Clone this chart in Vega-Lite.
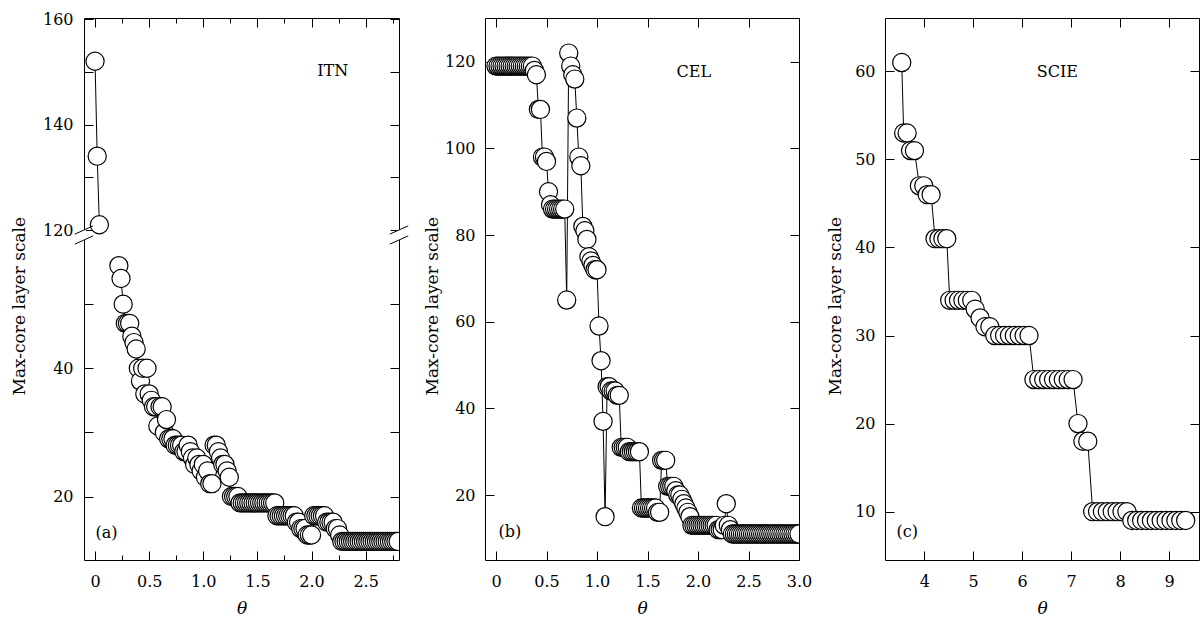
{
  "$schema": "https://vega.github.io/schema/vega-lite/v6.json",
  "background": "white",
  "padding": {"left": 10, "top": 11, "right": 0, "bottom": 0},
  "bounds": "flush",
  "spacing": 86,
  "config": {
    "view": {"stroke": null},
    "axis": {
      "domainColor": "black", "domainWidth": 1, "tickColor": "black", "tickWidth": 1,
      "labelFont": "DejaVu Serif", "labelFontSize": 16, "labelColor": "black",
      "titleFont": "DejaVu Serif", "titleFontSize": 17, "titleColor": "black", "titleFontWeight": "normal",
      "grid": false, "labelFlush": false, "labelOverlap": false, "labelBound": false
    },
    "text": {"font": "DejaVu Serif"}
  },
  "datasets": {
    "itn": [
      {"t":0,"k":152,"part":"upper"},{"t":0.02,"k":134,"part":"upper"},{"t":0.04,"k":121,"part":"upper"},
      {"t":0.22,"k":56,"part":"lower"},{"t":0.24,"k":54,"part":"lower"},{"t":0.26,"k":50,"part":"lower"},{"t":0.28,"k":47,"part":"lower"},{"t":0.30,"k":47,"part":"lower"},{"t":0.32,"k":47,"part":"lower"},
      {"t":0.34,"k":45,"part":"lower"},{"t":0.36,"k":44,"part":"lower"},{"t":0.38,"k":43,"part":"lower"},{"t":0.40,"k":40,"part":"lower"},{"t":0.42,"k":38,"part":"lower"},{"t":0.44,"k":40,"part":"lower"},
      {"t":0.46,"k":36,"part":"lower"},{"t":0.48,"k":40,"part":"lower"},{"t":0.50,"k":36,"part":"lower"},{"t":0.52,"k":35,"part":"lower"},{"t":0.54,"k":34,"part":"lower"},{"t":0.56,"k":34,"part":"lower"},
      {"t":0.58,"k":31,"part":"lower"},{"t":0.60,"k":34,"part":"lower"},{"t":0.62,"k":34,"part":"lower"},{"t":0.64,"k":30,"part":"lower"},{"t":0.66,"k":32,"part":"lower"},{"t":0.68,"k":29,"part":"lower"},
      {"t":0.70,"k":29,"part":"lower"},{"t":0.72,"k":29,"part":"lower"},{"t":0.74,"k":28,"part":"lower"},{"t":0.76,"k":28,"part":"lower"},{"t":0.78,"k":28,"part":"lower"},{"t":0.80,"k":28,"part":"lower"},
      {"t":0.82,"k":27,"part":"lower"},{"t":0.84,"k":27,"part":"lower"},{"t":0.86,"k":28,"part":"lower"},{"t":0.88,"k":27,"part":"lower"},{"t":0.90,"k":26,"part":"lower"},{"t":0.92,"k":25,"part":"lower"},
      {"t":0.94,"k":26,"part":"lower"},{"t":0.96,"k":25,"part":"lower"},{"t":0.98,"k":24,"part":"lower"},{"t":1.00,"k":25,"part":"lower"},{"t":1.02,"k":23,"part":"lower"},{"t":1.04,"k":24,"part":"lower"},
      {"t":1.06,"k":22,"part":"lower"},{"t":1.08,"k":22,"part":"lower"},{"t":1.10,"k":28,"part":"lower"},{"t":1.12,"k":28,"part":"lower"},{"t":1.14,"k":27,"part":"lower"},{"t":1.16,"k":26,"part":"lower"},
      {"t":1.18,"k":25,"part":"lower"},{"t":1.20,"k":25,"part":"lower"},{"t":1.22,"k":24,"part":"lower"},{"t":1.24,"k":23,"part":"lower"},{"t":1.26,"k":20,"part":"lower"},{"t":1.28,"k":20,"part":"lower"},
      {"t":1.30,"k":20,"part":"lower"},{"t":1.32,"k":20,"part":"lower"},{"t":1.34,"k":19,"part":"lower"},{"t":1.36,"k":19,"part":"lower"},{"t":1.38,"k":19,"part":"lower"},{"t":1.40,"k":19,"part":"lower"},
      {"t":1.42,"k":19,"part":"lower"},{"t":1.44,"k":19,"part":"lower"},{"t":1.46,"k":19,"part":"lower"},{"t":1.48,"k":19,"part":"lower"},{"t":1.50,"k":19,"part":"lower"},{"t":1.52,"k":19,"part":"lower"},
      {"t":1.54,"k":19,"part":"lower"},{"t":1.56,"k":19,"part":"lower"},{"t":1.58,"k":19,"part":"lower"},{"t":1.60,"k":19,"part":"lower"},{"t":1.62,"k":19,"part":"lower"},{"t":1.64,"k":19,"part":"lower"},
      {"t":1.66,"k":19,"part":"lower"},{"t":1.68,"k":17,"part":"lower"},{"t":1.70,"k":17,"part":"lower"},{"t":1.72,"k":17,"part":"lower"},{"t":1.74,"k":17,"part":"lower"},{"t":1.76,"k":17,"part":"lower"},
      {"t":1.78,"k":17,"part":"lower"},{"t":1.80,"k":17,"part":"lower"},{"t":1.82,"k":17,"part":"lower"},{"t":1.84,"k":17,"part":"lower"},{"t":1.86,"k":16,"part":"lower"},{"t":1.88,"k":16,"part":"lower"},
      {"t":1.90,"k":15,"part":"lower"},{"t":1.92,"k":15,"part":"lower"},{"t":1.94,"k":15,"part":"lower"},{"t":1.96,"k":14,"part":"lower"},{"t":1.98,"k":14,"part":"lower"},{"t":2.00,"k":14,"part":"lower"},
      {"t":2.02,"k":17,"part":"lower"},{"t":2.04,"k":17,"part":"lower"},{"t":2.06,"k":17,"part":"lower"},{"t":2.08,"k":17,"part":"lower"},{"t":2.10,"k":17,"part":"lower"},{"t":2.12,"k":17,"part":"lower"},
      {"t":2.14,"k":16,"part":"lower"},{"t":2.16,"k":16,"part":"lower"},{"t":2.18,"k":16,"part":"lower"},{"t":2.20,"k":16,"part":"lower"},{"t":2.22,"k":15,"part":"lower"},{"t":2.24,"k":15,"part":"lower"},
      {"t":2.26,"k":14,"part":"lower"},{"t":2.28,"k":13,"part":"lower"},{"t":2.30,"k":13,"part":"lower"},{"t":2.32,"k":13,"part":"lower"},{"t":2.34,"k":13,"part":"lower"},{"t":2.36,"k":13,"part":"lower"},
      {"t":2.38,"k":13,"part":"lower"},{"t":2.40,"k":13,"part":"lower"},{"t":2.42,"k":13,"part":"lower"},{"t":2.44,"k":13,"part":"lower"},{"t":2.46,"k":13,"part":"lower"},{"t":2.48,"k":13,"part":"lower"},
      {"t":2.50,"k":13,"part":"lower"},{"t":2.52,"k":13,"part":"lower"},{"t":2.54,"k":13,"part":"lower"},{"t":2.56,"k":13,"part":"lower"},{"t":2.58,"k":13,"part":"lower"},{"t":2.60,"k":13,"part":"lower"},
      {"t":2.62,"k":13,"part":"lower"},{"t":2.64,"k":13,"part":"lower"},{"t":2.66,"k":13,"part":"lower"},{"t":2.68,"k":13,"part":"lower"},{"t":2.70,"k":13,"part":"lower"},{"t":2.72,"k":13,"part":"lower"},
      {"t":2.74,"k":13,"part":"lower"},{"t":2.76,"k":13,"part":"lower"},{"t":2.78,"k":13,"part":"lower"},{"t":2.80,"k":13,"part":"lower"}
    ],
    "cel": [
      {"t":0,"k":119},{"t":0.02,"k":119},{"t":0.04,"k":119},{"t":0.06,"k":119},{"t":0.08,"k":119},{"t":0.10,"k":119},
      {"t":0.12,"k":119},{"t":0.14,"k":119},{"t":0.16,"k":119},{"t":0.18,"k":119},{"t":0.20,"k":119},{"t":0.22,"k":119},
      {"t":0.24,"k":119},{"t":0.26,"k":119},{"t":0.28,"k":119},{"t":0.30,"k":119},{"t":0.32,"k":119},{"t":0.34,"k":119},
      {"t":0.36,"k":119},{"t":0.38,"k":118},{"t":0.40,"k":117},{"t":0.42,"k":109},{"t":0.44,"k":109},{"t":0.46,"k":98},
      {"t":0.48,"k":98},{"t":0.50,"k":97},{"t":0.52,"k":90},{"t":0.54,"k":87},{"t":0.56,"k":86},{"t":0.58,"k":86},
      {"t":0.60,"k":86},{"t":0.62,"k":86},{"t":0.64,"k":86},{"t":0.66,"k":86},{"t":0.68,"k":86},{"t":0.70,"k":65},
      {"t":0.72,"k":122},{"t":0.74,"k":119},{"t":0.76,"k":117},{"t":0.78,"k":116},{"t":0.80,"k":107},{"t":0.82,"k":98},
      {"t":0.84,"k":96},{"t":0.86,"k":82},{"t":0.88,"k":81},{"t":0.90,"k":79},{"t":0.92,"k":75},{"t":0.94,"k":74},
      {"t":0.96,"k":73},{"t":0.98,"k":72},{"t":1.00,"k":72},{"t":1.02,"k":59},{"t":1.04,"k":51},{"t":1.06,"k":37},
      {"t":1.08,"k":15},{"t":1.10,"k":45},{"t":1.12,"k":45},{"t":1.14,"k":44},{"t":1.16,"k":44},{"t":1.18,"k":44},
      {"t":1.20,"k":43},{"t":1.22,"k":43},{"t":1.24,"k":31},{"t":1.26,"k":31},{"t":1.28,"k":31},{"t":1.30,"k":31},
      {"t":1.32,"k":30},{"t":1.34,"k":30},{"t":1.36,"k":30},{"t":1.38,"k":30},{"t":1.40,"k":30},{"t":1.42,"k":30},
      {"t":1.44,"k":17},{"t":1.46,"k":17},{"t":1.48,"k":17},{"t":1.50,"k":17},{"t":1.52,"k":17},{"t":1.54,"k":17},
      {"t":1.56,"k":17},{"t":1.58,"k":17},{"t":1.60,"k":16},{"t":1.62,"k":16},{"t":1.64,"k":28},{"t":1.66,"k":28},
      {"t":1.68,"k":28},{"t":1.70,"k":22},{"t":1.72,"k":22},{"t":1.74,"k":22},{"t":1.76,"k":22},{"t":1.78,"k":21},
      {"t":1.80,"k":20},{"t":1.82,"k":20},{"t":1.84,"k":19},{"t":1.86,"k":18},{"t":1.88,"k":17},{"t":1.90,"k":16},
      {"t":1.92,"k":15},{"t":1.94,"k":13},{"t":1.96,"k":13},{"t":1.98,"k":13},{"t":2.00,"k":13},{"t":2.02,"k":13},
      {"t":2.04,"k":13},{"t":2.06,"k":13},{"t":2.08,"k":13},{"t":2.10,"k":13},{"t":2.12,"k":13},{"t":2.14,"k":13},
      {"t":2.16,"k":13},{"t":2.18,"k":13},{"t":2.20,"k":12},{"t":2.22,"k":12},{"t":2.24,"k":12},{"t":2.26,"k":13},
      {"t":2.28,"k":18},{"t":2.30,"k":13},{"t":2.32,"k":12},{"t":2.34,"k":11},{"t":2.36,"k":11},{"t":2.38,"k":11},
      {"t":2.40,"k":11},{"t":2.42,"k":11},{"t":2.44,"k":11},{"t":2.46,"k":11},{"t":2.48,"k":11},{"t":2.50,"k":11},
      {"t":2.52,"k":11},{"t":2.54,"k":11},{"t":2.56,"k":11},{"t":2.58,"k":11},{"t":2.60,"k":11},{"t":2.62,"k":11},
      {"t":2.64,"k":11},{"t":2.66,"k":11},{"t":2.68,"k":11},{"t":2.70,"k":11},{"t":2.72,"k":11},{"t":2.74,"k":11},
      {"t":2.76,"k":11},{"t":2.78,"k":11},{"t":2.80,"k":11},{"t":2.82,"k":11},{"t":2.84,"k":11},{"t":2.86,"k":11},
      {"t":2.88,"k":11},{"t":2.90,"k":11},{"t":2.92,"k":11},{"t":2.94,"k":11},{"t":2.96,"k":11},{"t":2.98,"k":11},
      {"t":3.00,"k":11}
    ],
    "scie": [
      {"t":3.54,"k":61},{"t":3.58,"k":53},{"t":3.65,"k":53},{"t":3.72,"k":51},{"t":3.80,"k":51},{"t":3.90,"k":47},
      {"t":3.99,"k":47},{"t":4.06,"k":46},{"t":4.14,"k":46},{"t":4.22,"k":41},{"t":4.30,"k":41},{"t":4.38,"k":41},
      {"t":4.46,"k":41},{"t":4.52,"k":34},{"t":4.61,"k":34},{"t":4.70,"k":34},{"t":4.79,"k":34},{"t":4.88,"k":34},
      {"t":4.97,"k":34},{"t":5.04,"k":33},{"t":5.14,"k":32},{"t":5.24,"k":31},{"t":5.34,"k":31},{"t":5.44,"k":30},
      {"t":5.54,"k":30},{"t":5.64,"k":30},{"t":5.74,"k":30},{"t":5.84,"k":30},{"t":5.94,"k":30},{"t":6.04,"k":30},
      {"t":6.14,"k":30},{"t":6.24,"k":25},{"t":6.34,"k":25},{"t":6.44,"k":25},{"t":6.54,"k":25},{"t":6.64,"k":25},
      {"t":6.74,"k":25},{"t":6.84,"k":25},{"t":6.94,"k":25},{"t":7.04,"k":25},{"t":7.14,"k":20},{"t":7.24,"k":18},
      {"t":7.34,"k":18},{"t":7.44,"k":10},{"t":7.54,"k":10},{"t":7.64,"k":10},{"t":7.74,"k":10},{"t":7.84,"k":10},
      {"t":7.94,"k":10},{"t":8.04,"k":10},{"t":8.14,"k":10},{"t":8.24,"k":9},{"t":8.34,"k":9},{"t":8.44,"k":9},
      {"t":8.54,"k":9},{"t":8.64,"k":9},{"t":8.74,"k":9},{"t":8.84,"k":9},{"t":8.94,"k":9},{"t":9.04,"k":9},
      {"t":9.14,"k":9},{"t":9.24,"k":9},{"t":9.34,"k":9}
    ]
  },
  "hconcat": [
    {
      "width": 315, "height": 542,
      "data": {"name": "itn"},
      "layer": [
        {
          "data": {"values": [{}]},
          "mark": {"type": "rule", "color": "white", "strokeWidth": 4},
          "encoding": {"x": {"datum": -0.102, "type": "quantitative", "axis": null}, "y": {"datum": 60, "type": "quantitative", "axis": null}, "y2": {"datum": 120}}
        },
        {
          "data": {"values": [{}]},
          "mark": {"type": "rule", "color": "white", "strokeWidth": 4},
          "encoding": {"x": {"datum": 2.808, "type": "quantitative", "axis": null}, "y": {"datum": 60, "type": "quantitative", "axis": null}, "y2": {"datum": 120}}
        },
        {
          "mark": {"type": "line", "color": "black", "strokeWidth": 1, "clip": true},
          "encoding": {
            "x": {"field": "t", "type": "quantitative", "scale": {"domain": [-0.102, 2.808], "nice": false, "zero": false},
                  "axis": {"orient": "bottom", "values": [0,0.25,0.5,0.75,1,1.25,1.5,1.75,2,2.25,2.5,2.75],
                           "labelExpr": "datum.value % 0.5 === 0 ? (datum.value === 0 ? '0' : format(datum.value, '.1f')) : ''",
                           "tickSize": {"condition": {"test": "datum.value % 0.5 === 0", "value": -9}, "value": -5},
                           "labelPadding": 30, "labelBaseline": "middle",
                           "title": "θ", "titleFontStyle": "italic", "titleY": 53, "titleBaseline": "alphabetic"}},
            "y": {"field": "k", "type": "quantitative",
                  "scale": {"type": "linear", "domain": [10.1, 60, 120, 160.2], "range": [542, 222, 212, 0], "nice": false, "zero": false},
                  "axis": {"orient": "left", "values": [20,30,40,50,120,130,140,150,160], "labelExpr": "datum.value % 20 === 0 ? datum.label : ''",
                           "tickSize": -9, "labelPadding": 20,
                           "title": "Max-core layer scale", "titleX": -64.2, "titleY": 287.7, "titleAngle": -90,
                           "titleAlign": "center", "titleBaseline": "middle"}},
            "detail": {"field": "part", "type": "nominal"}
          }
        },
        {
          "mark": {"type": "point", "filled": true, "fill": "white", "stroke": "black", "strokeWidth": 1.2, "size": 330, "opacity": 1, "clip": true},
          "encoding": {
            "x": {"field": "t", "type": "quantitative",
                  "axis": {"orient": "top", "values": [0,0.25,0.5,0.75,1,1.25,1.5,1.75,2,2.25,2.5,2.75], "labels": false, "title": null,
                           "tickSize": {"condition": {"test": "datum.value % 0.5 === 0", "value": -9}, "value": -5}}},
            "y": {"field": "k", "type": "quantitative",
                  "axis": {"orient": "right", "values": [20,30,40,50,120,130,140,150,160], "labels": false, "tickSize": -9, "title": null}}
          }
        },
        {
          "data": {"values": [{}]},
          "mark": {"type": "rule", "color": "black", "strokeWidth": 1},
          "encoding": {"x": {"datum": -0.187, "type": "quantitative", "axis": null}, "x2": {"datum": -0.017}, "y": {"datum": 95.1, "type": "quantitative", "axis": null}, "y2": {"datum": 120.787}}
        },
        {
          "data": {"values": [{}]},
          "mark": {"type": "rule", "color": "black", "strokeWidth": 1},
          "encoding": {"x": {"datum": 2.723, "type": "quantitative", "axis": null}, "x2": {"datum": 2.893}, "y": {"datum": 95.1, "type": "quantitative", "axis": null}, "y2": {"datum": 120.787}}
        },
        {
          "data": {"values": [{}]},
          "mark": {"type": "rule", "color": "black", "strokeWidth": 1},
          "encoding": {"x": {"datum": -0.187, "type": "quantitative", "axis": null}, "x2": {"datum": -0.017}, "y": {"datum": 59.353, "type": "quantitative", "axis": null}, "y2": {"datum": 84.9}}
        },
        {
          "data": {"values": [{}]},
          "mark": {"type": "rule", "color": "black", "strokeWidth": 1},
          "encoding": {"x": {"datum": 2.723, "type": "quantitative", "axis": null}, "x2": {"datum": 2.893}, "y": {"datum": 59.353, "type": "quantitative", "axis": null}, "y2": {"datum": 84.9}}
        },
        {
          "data": {"values": [{}]},
          "mark": {"type": "text", "font": "DejaVu Serif", "fontSize": 16, "color": "black", "align": "center", "baseline": "middle"},
          "encoding": {"x": {"datum": 2.195, "type": "quantitative", "axis": null}, "y": {"datum": 150.2, "type": "quantitative", "axis": null}, "text": {"value": "ITN"}}
        },
        {
          "data": {"values": [{}]},
          "mark": {"type": "text", "font": "DejaVu Serif", "fontSize": 16, "color": "black", "align": "center", "baseline": "middle"},
          "encoding": {"x": {"datum": 0.106, "type": "quantitative", "axis": null}, "y": {"datum": 14.31, "type": "quantitative", "axis": null}, "text": {"value": "(a)"}}
        }
      ],
      "resolve": {"axis": {"x": "independent", "y": "independent"}}
    },
    {
      "width": 314, "height": 542,
      "data": {"name": "cel"},
      "layer": [
        {
          "mark": {"type": "line", "color": "black", "strokeWidth": 1, "clip": true},
          "encoding": {
            "x": {"field": "t", "type": "quantitative", "scale": {"domain": [-0.109, 3.0], "nice": false, "zero": false},
                  "axis": {"orient": "bottom", "values": [0,0.5,1,1.5,2,2.5,3],
                           "labelExpr": "datum.value === 0 ? '0' : format(datum.value, '.1f')",
                           "tickSize": -9, "labelPadding": 30, "labelBaseline": "middle",
                           "title": "θ", "titleFontStyle": "italic", "titleY": 53, "titleBaseline": "alphabetic"}},
            "y": {"field": "k", "type": "quantitative", "scale": {"domain": [5, 130.1], "nice": false, "zero": false},
                  "axis": {"orient": "left", "values": [20,40,60,80,100,120], "tickSize": -9, "labelPadding": 19,
                           "title": "Max-core layer scale", "titleX": -52.3, "titleY": 287.7, "titleAngle": -90,
                           "titleAlign": "center", "titleBaseline": "middle"}}
          }
        },
        {
          "mark": {"type": "point", "filled": true, "fill": "white", "stroke": "black", "strokeWidth": 1.2, "size": 330, "opacity": 1, "clip": true},
          "encoding": {
            "x": {"field": "t", "type": "quantitative",
                  "axis": {"orient": "top", "values": [0,0.5,1,1.5,2,2.5,3], "labels": false, "tickSize": -9, "title": null}},
            "y": {"field": "k", "type": "quantitative",
                  "axis": {"orient": "right", "values": [20,40,60,80,100,120], "labels": false, "tickSize": -9, "title": null}}
          }
        },
        {
          "data": {"values": [{}]},
          "mark": {"type": "text", "font": "DejaVu Serif", "fontSize": 16, "color": "black", "align": "center", "baseline": "middle"},
          "encoding": {"x": {"datum": 1.958, "type": "quantitative", "axis": null}, "y": {"datum": 117.7, "type": "quantitative", "axis": null}, "text": {"value": "CEL"}}
        },
        {
          "data": {"values": [{}]},
          "mark": {"type": "text", "font": "DejaVu Serif", "fontSize": 16, "color": "black", "align": "center", "baseline": "middle"},
          "encoding": {"x": {"datum": 0.138, "type": "quantitative", "axis": null}, "y": {"datum": 11.55, "type": "quantitative", "axis": null}, "text": {"value": "(b)"}}
        }
      ],
      "resolve": {"axis": {"x": "independent", "y": "independent"}}
    },
    {
      "width": 314, "height": 542,
      "data": {"name": "scie"},
      "layer": [
        {
          "mark": {"type": "line", "color": "black", "strokeWidth": 1, "clip": true},
          "encoding": {
            "x": {"field": "t", "type": "quantitative", "scale": {"domain": [3.198, 9.612], "nice": false, "zero": false},
                  "axis": {"orient": "bottom", "values": [4,5,6,7,8,9], "tickSize": -9, "labelPadding": 30, "labelBaseline": "middle",
                           "title": "θ", "titleFontStyle": "italic", "titleY": 53, "titleBaseline": "alphabetic"}},
            "y": {"field": "k", "type": "quantitative", "scale": {"domain": [4.51, 66.06], "nice": false, "zero": false},
                  "axis": {"orient": "left", "values": [10,20,30,40,50,60], "tickSize": -9, "labelPadding": 19,
                           "title": "Max-core layer scale", "titleX": -50, "titleY": 287.7, "titleAngle": -90,
                           "titleAlign": "center", "titleBaseline": "middle"}}
          }
        },
        {
          "mark": {"type": "point", "filled": true, "fill": "white", "stroke": "black", "strokeWidth": 1.2, "size": 330, "opacity": 1, "clip": true},
          "encoding": {
            "x": {"field": "t", "type": "quantitative",
                  "axis": {"orient": "top", "values": [4,5,6,7,8,9], "labels": false, "tickSize": -9, "title": null}},
            "y": {"field": "k", "type": "quantitative",
                  "axis": {"orient": "right", "values": [10,20,30,40,50,60], "labels": false, "tickSize": -9, "title": null}}
          }
        },
        {
          "data": {"values": [{}]},
          "mark": {"type": "text", "font": "DejaVu Serif", "fontSize": 16, "color": "black", "align": "center", "baseline": "middle"},
          "encoding": {"x": {"datum": 6.718, "type": "quantitative", "axis": null}, "y": {"datum": 59.97, "type": "quantitative", "axis": null}, "text": {"value": "SCIE"}}
        },
        {
          "data": {"values": [{}]},
          "mark": {"type": "text", "font": "DejaVu Serif", "fontSize": 16, "color": "black", "align": "center", "baseline": "middle"},
          "encoding": {"x": {"datum": 3.651, "type": "quantitative", "axis": null}, "y": {"datum": 7.65, "type": "quantitative", "axis": null}, "text": {"value": "(c)"}}
        }
      ],
      "resolve": {"axis": {"x": "independent", "y": "independent"}}
    }
  ]
}
